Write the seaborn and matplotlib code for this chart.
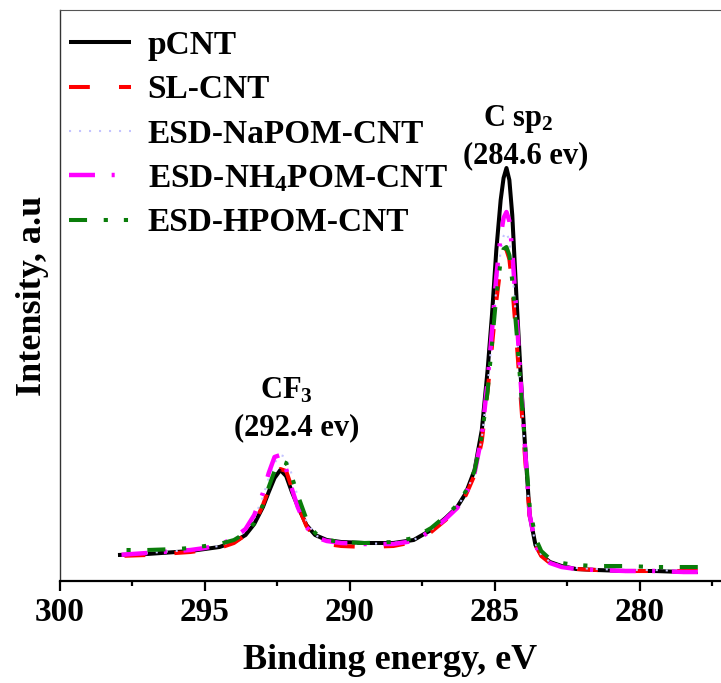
import numpy as np
import pandas as pd
import matplotlib
matplotlib.use("Agg")
import matplotlib.pyplot as plt
import seaborn as sns

# ---------------- data ----------------
energy = [298, 297, 296, 295.5, 295, 294.5, 294, 293.6, 293.3, 293.0, 292.8, 292.6, 292.4,
          292.2, 292.0, 291.8, 291.5, 291.2, 290.8, 290.3, 289.5, 288.5, 287.8, 287.2, 286.7,
          286.3, 286.0, 285.7, 285.45, 285.25, 285.1, 284.95, 284.8, 284.7, 284.6, 284.5,
          284.4, 284.25, 284.1, 283.95, 283.8, 283.6, 283.4, 283.1, 282.7, 282.2, 281.5,
          280.5, 279.5, 278.5, 278.0]

pcnt = [26, 27, 29, 30, 32, 34, 39, 46, 57, 74, 89, 103, 111,
        105, 89, 75, 56, 46, 41, 39, 38, 38, 41, 51, 63,
        74, 88, 111, 151, 211, 266, 331, 381, 403, 413, 401,
        366, 281, 201, 131, 66, 36, 26, 19, 15, 12, 11,
        10, 10, 9, 9]

sl_cnt = [25, 26, 28, 29, 31, 33, 38, 46, 57, 76, 92, 105, 112,
          110, 93, 76, 55, 43, 37, 35, 34, 35, 39, 49, 61,
          72, 86, 106, 140, 190, 235, 280, 315, 328, 331, 322,
          295, 240, 180, 120, 65, 36, 25, 18, 14, 12, 11,
          10, 10, 10, 10]

napom = [27, 28, 30, 31, 33, 35, 41, 50, 63, 84, 103, 118, 126,
         124, 106, 84, 60, 46, 40, 38, 37, 38, 41, 51, 63,
         74, 88, 108, 143, 195, 242, 292, 330, 345, 349, 340,
         312, 255, 190, 126, 66, 37, 26, 19, 15, 13, 12,
         11, 11, 10, 10]

nh4pom = [26, 28, 30, 31, 33, 36, 43, 52, 66, 88, 108, 124, 126,
          112, 92, 74, 54, 44, 40, 38, 37, 37, 40, 50, 62,
          73, 87, 108, 145, 200, 250, 305, 345, 363, 369, 360,
          330, 265, 195, 128, 66, 36, 25, 18, 14, 12, 11,
          10, 10, 9, 9]

hpom = [31, 31, 32, 33, 35, 37, 41, 48, 58, 76, 94, 110, 120,
        118, 104, 86, 62, 48, 41, 39, 38, 39, 43, 53, 65,
        76, 90, 110, 145, 190, 237, 285, 320, 332, 334, 326,
        300, 248, 190, 132, 75, 43, 30, 22, 18, 16, 15,
        15, 14, 14, 14]

labels = ["pCNT", "SL-CNT", "ESD-NaPOM-CNT", "ESD-NH$_4$POM-CNT", "ESD-HPOM-CNT"]
xticks = [300, 295, 290, 285, 280]

# ---------------- style ----------------
sns.set_style("white")
plt.rcParams["font.family"] = ["Liberation Serif", "DejaVu Serif"]
plt.rcParams["font.weight"] = "bold"
plt.rcParams["text.color"] = "black"
plt.rcParams["axes.labelcolor"] = "black"
plt.rcParams["xtick.color"] = "black"
plt.rcParams["mathtext.fontset"] = "custom"
plt.rcParams["mathtext.rm"] = "Liberation Serif:bold"
plt.rcParams["mathtext.it"] = "Liberation Serif:bold"
plt.rcParams["mathtext.bf"] = "Liberation Serif:bold"
plt.rcParams["mathtext.default"] = "rm"
plt.rcParams["lines.scale_dashes"] = False

W, H = 721, 683
fig = plt.figure(figsize=(W / 100, H / 100), dpi=100)
ax = fig.add_axes([60 / W, (H - 581) / H, 661 / W, 571 / H])

df = pd.DataFrame({"energy": energy, "pCNT": pcnt, "SL": sl_cnt, "Na": napom,
                   "NH4": nh4pom, "H": hpom})

series = [
    ("pCNT", labels[0], "black", 2.9, None),
    ("SL", labels[1], "#ff0000", 2.9, (15, 21)),
    ("Na", labels[2], "#c4c4ff", 1.5, (1.5, 5.7)),
    ("NH4", labels[3], "#ff00ff", 3.2, (18.7, 12, 2.2, 11.8)),
    ("H", labels[4], "#0a7d0a", 2.9, (13, 12, 3, 11.5, 3, 12)),
]

for col, lab, color, lw, dash in series:
    sns.lineplot(data=df, x="energy", y=col, ax=ax, color=color, lw=lw,
                 label=lab, estimator=None)
    line = ax.get_lines()[-1]
    if dash is not None:
        line.set_dashes(dash)
    line.set_solid_capstyle("butt")
    line.set_dash_capstyle("butt")

ax.set_xlim(300, 277.2)
ax.set_ylim(0, 571)
ax.set_xticks(xticks)
ax.set_xticks([297.5, 292.5, 287.5, 282.5, 277.5], minor=True)
ax.set_yticks([])
ax.tick_params(axis="x", which="major", direction="out", length=7.2, width=1.6,
               labelsize=24, pad=4, bottom=True, colors="black")
ax.tick_params(axis="x", which="minor", direction="out", length=3.6, width=1.6,
               bottom=True, colors="black")
for lab in ax.get_xticklabels():
    lab.set_fontweight("bold")

ax.spines["right"].set_visible(False)
ax.spines["top"].set_color("#555555")
ax.spines["top"].set_linewidth(0.8)
ax.spines["left"].set_color("#333333")
ax.spines["left"].set_linewidth(1.0)
ax.spines["bottom"].set_color("black")
ax.spines["bottom"].set_linewidth(1.6)

ax.set_xlabel("Binding energy, eV", fontsize=26, fontweight="bold", labelpad=12,
              color="black")
ax.set_ylabel("Intensity, a.u", fontsize=26, fontweight="bold", labelpad=8,
              color="black")

ax.text(284.2, 462, "C sp$_2$", fontsize=22, fontweight="bold", ha="center", va="center")
ax.text(283.93, 425, "(284.6 ev)", fontsize=22, fontweight="bold", ha="center", va="center")
ax.text(292.2, 190, "CF$_3$", fontsize=22, fontweight="bold", ha="center", va="center")
ax.text(291.84, 153, "(292.4 ev)", fontsize=22, fontweight="bold", ha="center", va="center")

leg = ax.legend(loc="upper left", bbox_to_anchor=(69 / W, 1 - 30 / H),
                bbox_transform=fig.transFigure, frameon=False, fontsize=24,
                handlelength=1.86, handletextpad=0.5, labelspacing=0.4,
                borderpad=0, borderaxespad=0)
for t in leg.get_texts():
    t.set_fontweight("bold")
    t.set_color("black")

fig.savefig("out.png", dpi=100)
